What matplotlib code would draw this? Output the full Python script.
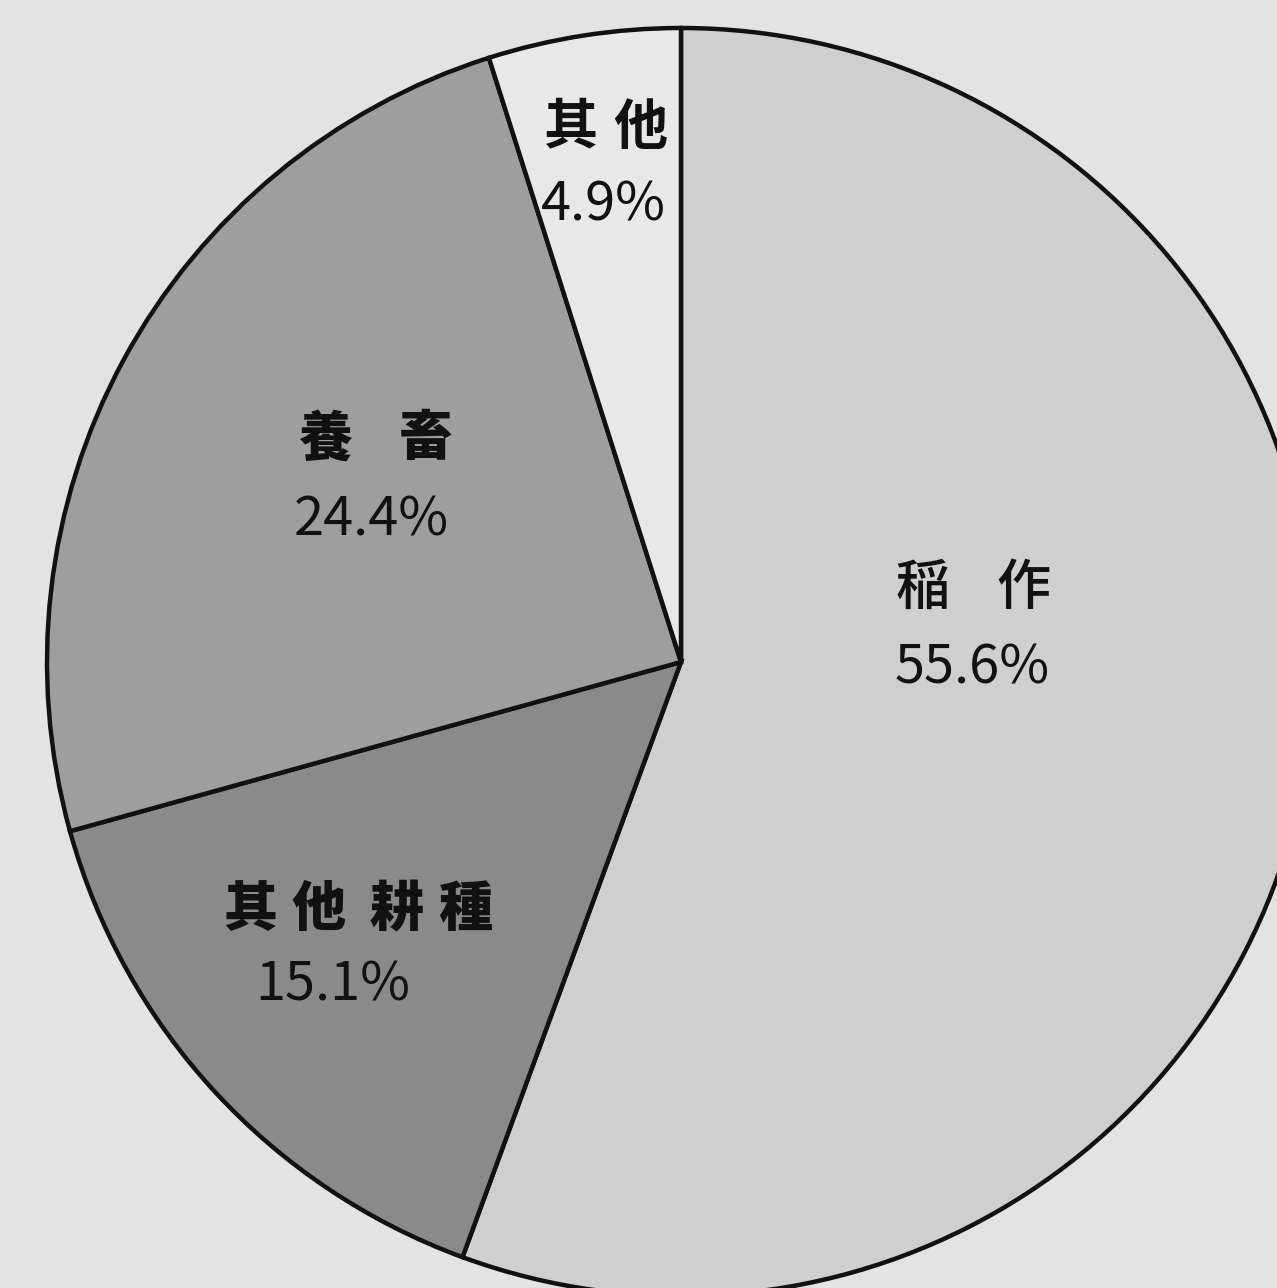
import matplotlib
matplotlib.use("Agg")
import matplotlib.pyplot as plt

plt.rcParams['font.family'] = ['Noto Sans CJK JP', 'DejaVu Sans']

categories = ["稲作", "其他耕種", "養畜", "其他"]
shares = [55.6, 15.1, 24.4, 4.9]
pct_labels = ["55.6%", "15.1%", "24.4%", "4.9%"]

colors = ["#cfcfcf", "#8a8a8a", "#9e9e9e", "#e8e8e8"]
W, H = 1277, 1288
fig = plt.figure(figsize=(W / 100, H / 100), dpi=100)
fig.patch.set_facecolor("#e3e3e3")
ax = fig.add_axes([0, 0, 1, 1])

cx, cy = 681, H - 662
R = 634
ax.pie(shares, colors=colors, startangle=90, counterclock=False,
       center=(cx, cy), radius=R, frame=True,
       wedgeprops=dict(edgecolor="#111111", linewidth=3.2))
ax.set_xlim(0, W)
ax.set_ylim(0, H)
ax.set_aspect("auto")
ax.axis("off")

# per-character placement (layout), in pixel coords from top
char_pos = {
    "稲作": [(923, 588), (1023, 588)],
    "其他耕種": [(250, 910), (318, 910), (397, 910), (465, 910)],
    "養畜": [(325, 439), (426, 439)],
    "其他": [(571, 128), (640, 128)],
}
weights = {"稲作": "medium", "其他耕種": "heavy", "養畜": "heavy", "其他": "bold"}
pct_pos = [(972, 668), (333, 985), (371, 520), (603, 205)]

for cat, p, (px, py) in zip(categories, pct_labels, pct_pos):
    for ch, (x, y) in zip(cat, char_pos[cat]):
        ax.text(x, H - y, ch, ha="center", va="center", fontsize=39,
                fontweight=weights[cat], color="#111111")
    ax.text(px, H - py, p, ha="center", va="center", fontsize=39,
            color="#111111")

fig.savefig("out.png", dpi=100, facecolor=fig.get_facecolor())
